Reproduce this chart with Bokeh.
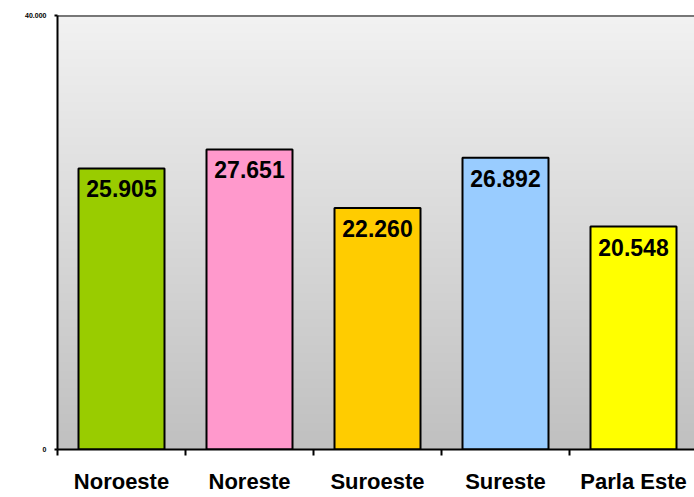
import numpy as np
from bokeh.plotting import figure
from bokeh.models import FixedTicker, Span, Range1d, ColumnDataSource
from bokeh.core.properties import value
from bokeh.embed import file_html
from bokeh.resources import INLINE

categories = ["Noroeste", "Noreste", "Suroeste", "Sureste", "Parla Este"]
values = [25905, 27651, 22260, 26892, 20548]
colors = ["#99CC00", "#FF99CC", "#FFCC00", "#99CCFF", "#FFFF00"]
y_ticks = [0, 40000]
y_tick_labels = {0: "0", 40000: "40.000"}

W, H = 694, 497
left, top, bottom = 57, 15, 48
frame_w = W - left
cat_px = 128.0
x_end = frame_w / cat_px

p = figure(width=W, height=H, output_backend="svg", toolbar_location=None,
           x_range=Range1d(0, x_end), y_range=Range1d(0, 40000),
           min_border_left=left, min_border_right=0, min_border_top=top,
           min_border_bottom=bottom)
p.outline_line_color = None
p.grid.grid_line_color = None
p.background_fill_color = "#d9d9d9"

# gradient background
n = 434
g = np.linspace(192, 242, n).astype(np.uint8)
img = np.zeros((n, 2), dtype=np.uint32)
view = img.view(dtype=np.uint8).reshape((n, 2, 4))
view[:, :, 0] = g[:, None]
view[:, :, 1] = g[:, None]
view[:, :, 2] = g[:, None]
view[:, :, 3] = 255
p.image_rgba(image=[img], x=0, y=0, dw=len(categories), dh=max(y_ticks))

centers = [i + 0.5 for i in range(len(categories))]
labels = [f"{v:,}".replace(",", ".") for v in values]
src = ColumnDataSource(dict(x=centers, top=values, color=colors, label=labels))

p.vbar(x="x", top="top", width=86 / cat_px, source=src, fill_color="color",
       line_color="black", line_width=2)
p.text(x="x", y="top", text="label", source=src, text_align="center",
       text_baseline="top", y_offset=12, text_font=value("Liberation Sans"),
       text_font_style="bold", text_font_size="23px", text_color="black")

p.add_layout(Span(location=max(y_ticks), dimension="width", line_color="black", line_width=2))

# x axis
xa = p.xaxis[0]
xa.ticker = FixedTicker(ticks=centers, minor_ticks=list(range(len(categories) + 1)))
xa.major_label_overrides = {c: cat for c, cat in zip(centers, categories)}
xa.major_tick_out = 0
xa.major_tick_in = 0
xa.minor_tick_out = 6
xa.minor_tick_in = 0
xa.minor_tick_line_color = "black"
xa.minor_tick_line_width = 2
xa.axis_line_color = "black"
xa.axis_line_width = 2
xa.major_label_text_font = "Liberation Sans"
xa.major_label_text_font_style = "bold"
xa.major_label_text_font_size = "22px"
xa.major_label_text_color = "black"
xa.major_label_standoff = 13

# y axis
ya = p.yaxis[0]
ya.ticker = FixedTicker(ticks=y_ticks)
ya.major_label_overrides = y_tick_labels
ya.minor_tick_line_color = None
ya.major_tick_out = 3
ya.major_tick_in = 0
ya.major_tick_line_width = 2
ya.axis_line_color = "black"
ya.axis_line_width = 2
ya.major_label_text_font = "Liberation Sans"
ya.major_label_text_font_style = "bold"
ya.major_label_text_font_size = "7px"
ya.major_label_text_color = "black"
ya.major_label_standoff = 8

open("out.html", "w").write(file_html(p, INLINE))
